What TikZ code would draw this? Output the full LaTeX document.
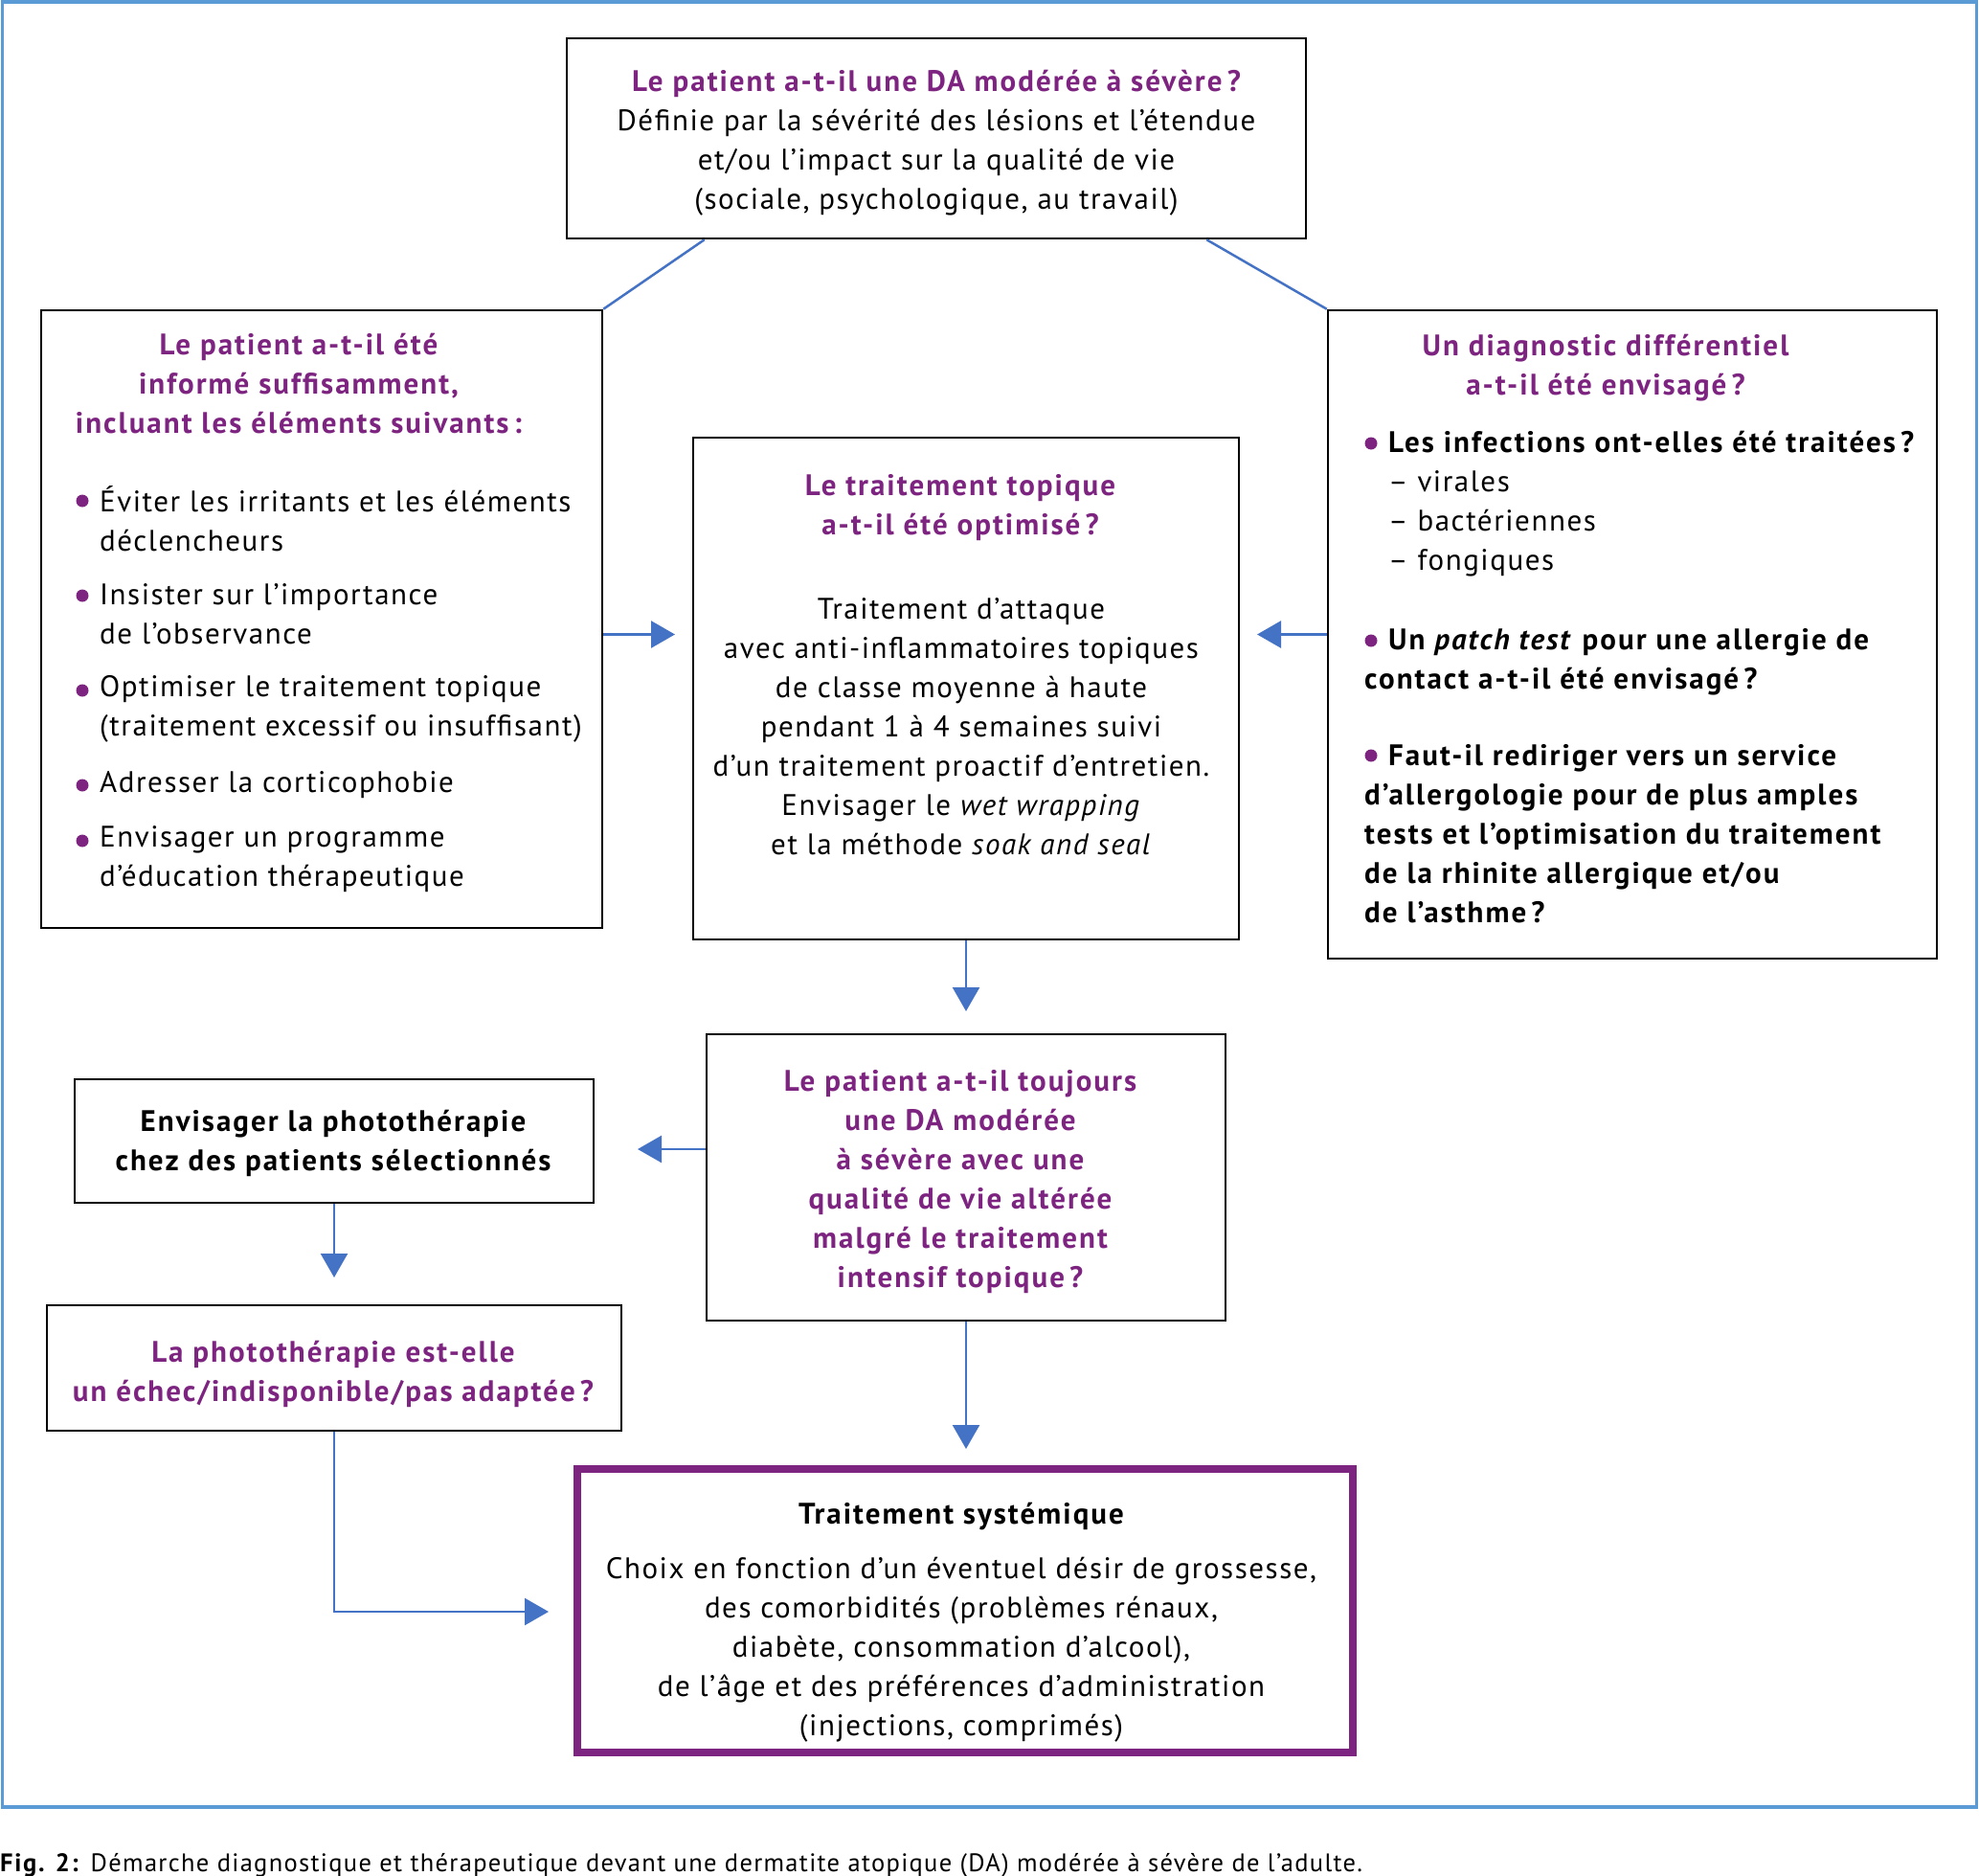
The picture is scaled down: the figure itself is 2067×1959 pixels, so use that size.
\documentclass[tikz,border=0pt]{standalone}
\usepackage{fontspec}
\setmainfont[LetterSpace=5, BoldFeatures={LetterSpace=6.5}, BoldItalicFeatures={LetterSpace=6.5}]{PT Sans}
\usetikzlibrary{arrows.meta}
\definecolor{purp}{RGB}{125,35,128}
\definecolor{arrowblue}{RGB}{68,114,196}
\definecolor{frameblue}{RGB}{91,155,213}
\begin{document}
\begin{tikzpicture}[x=1pt,y=-1pt,
  box/.style={draw=black, line width=2.5pt, inner sep=0pt},
  txt/.style={font=\fontsize{31}{41}\selectfont, align=center, inner sep=0pt},
  ltxt/.style={font=\fontsize{31}{41}\selectfont, align=left, inner sep=0pt, anchor=west},
  ttl/.style={font=\fontsize{31}{41}\selectfont\bfseries, align=center, inner sep=0pt, text=purp},
  conn/.style={draw=arrowblue, line width=2.5pt},
  arr/.style={conn, -{Triangle[length=25pt,width=28pt]}},
  dot/.style={fill=purp, circle, inner sep=0pt, minimum size=13pt}
]
\useasboundingbox (0,0) rectangle (2067,1959);
% frame
\node[draw=frameblue, line width=3.5pt, minimum width=2062pt, minimum height=1885pt, inner sep=0pt] (frame) at (1033.5,944.5) {};

% boxes
\node[box, minimum width=772pt, minimum height=209pt] (top) at (978,144.5) {};
\node[box, minimum width=586pt, minimum height=645pt] (left) at (336,646.5) {};
\node[box, minimum width=636pt, minimum height=677pt] (right) at (1705,662.5) {};
\node[box, minimum width=570pt, minimum height=524pt] (center) at (1009,719) {};
\node[box, minimum width=542pt, minimum height=299pt] (mid) at (1009,1229.5) {};
\node[box, minimum width=542pt, minimum height=129pt] (photo) at (349,1191.5) {};
\node[box, minimum width=600pt, minimum height=131pt] (echec) at (349,1428.5) {};
\node[draw=purp, line width=8pt, inner sep=0pt, minimum width=810pt, minimum height=296pt] (syst) at (1008,1682) {};

% top text
\node[txt] (toptxt) at (978,149.5) {{\color{purp}\bfseries Le patient a-t-il une DA modérée à sévère\,?}\\
Définie par la sévérité des lésions et l’étendue\\
et/ou l’impact sur la qualité de vie\\
(sociale, psychologique, au travail)};

% left text
\node[ttl] (lefttitle) at (312,401) {Le patient a-t-il été\\ informé suffisamment,\\ incluant les éléments suivants\,:};
\node[dot] (ld1) at (86,523) {};
\node[dot] (ld2) at (86,622) {};
\node[dot] (ld3) at (86,721) {};
\node[dot] (ld4) at (86,820) {};
\node[dot] (ld5) at (86,878) {};
\node[ltxt] (li1) at (104,542) {Éviter les irritants et les éléments\\ déclencheurs};
\node[ltxt] (li2) at (104,641) {Insister sur l’importance\\ de l’observance};
\node[ltxt] (li3) at (104,740.5) {Optimiser le traitement topique\\ (traitement excessif ou insuffisant)};
\node[ltxt] (li4) at (104,820) {Adresser la corticophobie};
\node[ltxt] (li5) at (104,897.5) {Envisager un programme\\ d’éducation thérapeutique};

% right text
\node[ttl] (righttitle) at (1677,384.5) {Un diagnostic différentiel\\ a-t-il été envisagé\,?};
\node[dot] (rd1) at (1432,463) {};
\node[dot] (rd2) at (1432,669) {};
\node[dot] (rd3) at (1432,789) {};
\node[ltxt] (ri1) at (1450,526.5) {\textbf{Les infections ont-elles été traitées\,?}\\ – virales\\ – bactériennes\\ – fongiques};
\node[ltxt, font=\fontsize{31}{41}\selectfont\bfseries] (ri2) at (1425,691.5) {\hspace*{25pt}Un \textit{patch test} pour une allergie de\\ contact a-t-il été envisagé\,?};
\node[ltxt, font=\fontsize{31}{41}\selectfont\bfseries] (ri3) at (1425,871) {\hspace*{25pt}Faut-il rediriger vers un service\\ d’allergologie pour de plus amples\\ tests et l’optimisation du traitement\\ de la rhinite allergique et/ou\\ de l’asthme\,?};

% center text
\node[ttl] (centertitle) at (1003,530.5) {Le traitement topique\\ a-t-il été optimisé\,?};
\node[txt] (centertxt) at (1004,759) {Traitement d’attaque\\ avec anti-inflammatoires topiques\\ de classe moyenne à haute\\ pendant 1 à 4 semaines suivi\\ d’un traitement proactif d’entretien.\\ Envisager le \textit{wet wrapping}\\ et la méthode \textit{soak and seal}};

% mid text
\node[ttl] (midtxt) at (1003,1234.5) {Le patient a-t-il toujours\\ une DA modérée\\ à sévère avec une\\ qualité de vie altérée\\ malgré le traitement\\ intensif topique\,?};

% photo texts
\node[txt, font=\fontsize{31}{41}\selectfont\bfseries] (phototxt) at (348,1193.5) {Envisager la photothérapie\\ chez des patients sélectionnés};
\node[ttl] (echectxt) at (348,1434.5) {La photothérapie est-elle\\ un échec/indisponible/pas adaptée\,?};

% systemic text
\node[txt, font=\fontsize{31}{41}\selectfont\bfseries] (systtitle) at (1004,1583) {Traitement systémique};
\node[txt] (systtxt) at (1004,1723) {Choix en fonction d’un éventuel désir de grossesse,\\ des comorbidités (problèmes rénaux,\\ diabète, consommation d’alcool),\\ de l’âge et des préférences d’administration\\ (injections, comprimés)};

% caption
\node[ltxt, font=\fontsize{26.5}{30}\selectfont] (caption) at (0,1948) {\textbf{Fig. 2:} Démarche diagnostique et thérapeutique devant une dermatite atopique (DA) modérée à sévère de l’adulte.};

% connector end points
\coordinate (lc) at (705,662.5);
\coordinate (rc) at (1313,662.5);
\coordinate (cm) at (1009,1056);
\coordinate (mp) at (666,1200);
\coordinate (pe) at (349,1334);
\coordinate (ms) at (1009,1513);
\coordinate (es) at (573,1683);

% connectors
\draw[conn] ([xshift=145pt]top.south west) -- (left.north east);
\draw[conn] ([xshift=-105pt]top.south east) -- (right.north west);
\draw[arr] (left.east |- right.west) -- (lc);
\draw[arr] (right.west) -- (rc);
\draw[arr] (center.south) -- (cm);
\draw[arr] ([yshift=29.5pt]mid.west) -- (mp);
\draw[arr] (photo.south) -- (pe);
\draw[arr] (mid.south) -- (ms);
\draw[arr] (echec.south) |- (es);
\end{tikzpicture}
\end{document}
